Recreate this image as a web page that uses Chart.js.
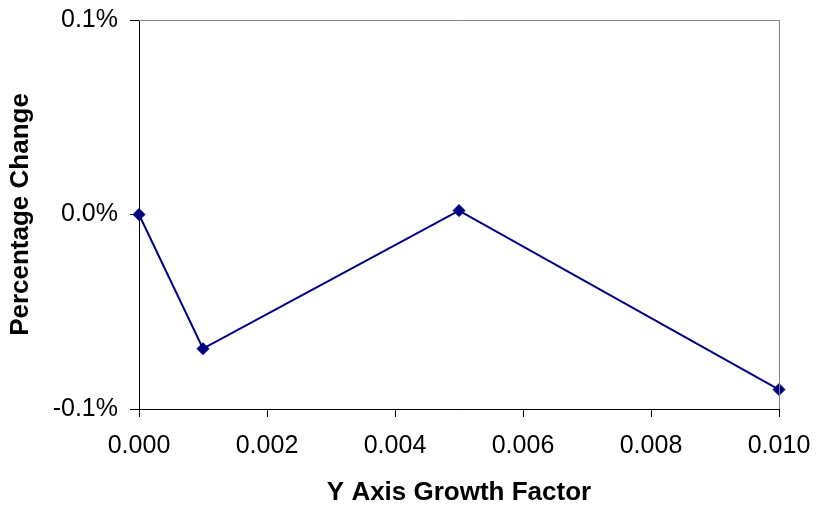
<!DOCTYPE html>
<html>
<head>
<meta charset="utf-8">
<script src="https://cdn.jsdelivr.net/npm/chart.js@4"></script>
<style>
html,body{margin:0;padding:0;background:#fff;}
#wrap{width:816px;height:506px;position:relative;}
</style>
</head>
<body>
<div id="wrap"><canvas id="c" width="816" height="506"></canvas></div>
<script>
const growthFactors = [0.000, 0.001, 0.005, 0.010];
const percentChange = [0.000, -0.069, 0.002, -0.090];
const xTickFormat = v => Number(v).toFixed(3);
const yTickFormat = v => Number(v).toFixed(1) + '%';
const xTitle = 'Y Axis Growth Factor';
const yTitle = 'Percentage Change';

const frame = {
  id: 'frame',
  afterDatasetsDraw(chart) {
    const a = chart.chartArea, ctx = chart.ctx;
    ctx.save();
    ctx.strokeStyle = '#808080';
    ctx.lineWidth = 1;
    ctx.beginPath();
    ctx.moveTo(a.left, a.top + 0.5);
    ctx.lineTo(a.right + 0.5, a.top + 0.5);
    ctx.lineTo(a.right + 0.5, a.bottom);
    ctx.stroke();
    ctx.restore();
  }
};

new Chart(document.getElementById('c'), {
  type: 'scatter',
  data: {
    datasets: [{
      data: growthFactors.map((x, i) => ({x: x, y: percentChange[i]})),
      showLine: true,
      borderColor: '#000080',
      backgroundColor: '#000080',
      borderWidth: 2,
      pointStyle: 'rectRot',
      pointRadius: 6,
      pointHoverRadius: 6,
      pointBorderWidth: 1,
      clip: false
    }]
  },
  options: {
    responsive: false,
    animation: false,
    layout: {padding: {left: 5, right: 37, top: 20, bottom: 0}},
    plugins: {legend: {display: false}, tooltip: {enabled: false}},
    scales: {
      x: {
        type: 'linear',
        min: 0, max: 0.01,
        ticks: {stepSize: 0.002, callback: xTickFormat, color: '#000', padding: 14,
                font: {family: 'Liberation Sans, Arial, sans-serif', size: 25}, maxRotation: 0},
        grid: {drawOnChartArea: false, drawTicks: true, tickLength: 8, color: '#000'},
        border: {color: '#000', width: 1},
        title: {display: true, text: xTitle, color: '#000', padding: {top: 6, bottom: -2},
                font: {family: 'Liberation Sans, Arial, sans-serif', size: 26, weight: 'bold'}},
        afterFit(s) { s.height = 506 - 409; s.paddingLeft = 0; s.paddingRight = 0; }
      },
      y: {
        min: -0.1, max: 0.1,
        ticks: {stepSize: 0.1, callback: yTickFormat, color: '#000', padding: 12,
                font: {family: 'Liberation Sans, Arial, sans-serif', size: 25}},
        grid: {drawOnChartArea: false, drawTicks: true, tickLength: 9, color: '#000'},
        border: {color: '#000', width: 1},
        title: {display: true, text: yTitle, color: '#000', padding: {top: 0, bottom: 4},
                font: {family: 'Liberation Sans, Arial, sans-serif', size: 26, weight: 'bold'}},
        afterFit(s) { s.width = 139 - 5; s.paddingTop = 0; s.paddingBottom = 0; }
      }
    }
  },
  plugins: [frame]
});
</script>
</body>
</html>
